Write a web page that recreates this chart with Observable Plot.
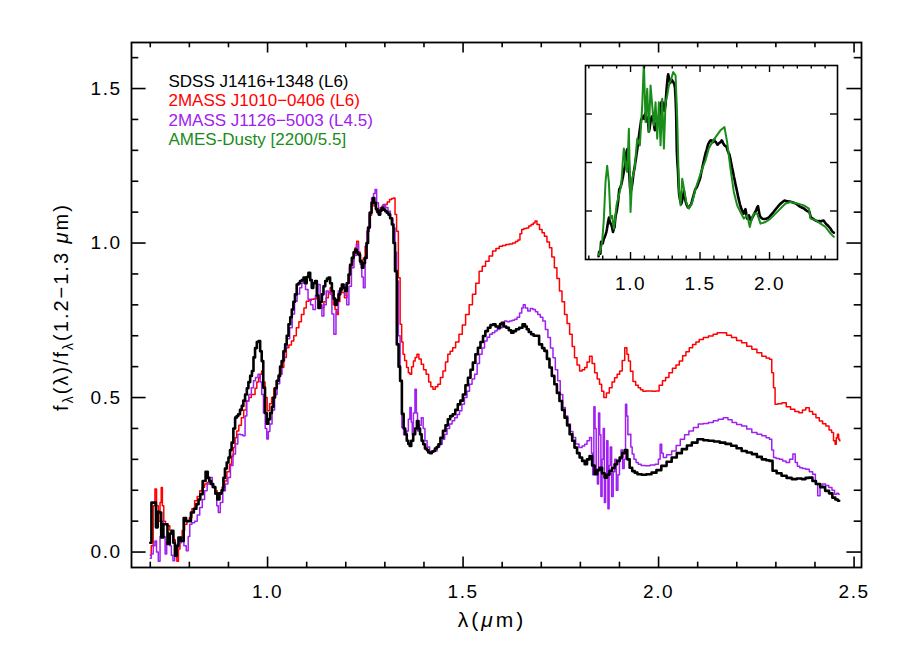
<!DOCTYPE html>
<html>
<head>
<meta charset="utf-8">
<script src="https://cdn.jsdelivr.net/npm/d3@7"></script>
<script src="https://cdn.jsdelivr.net/npm/@observablehq/plot@0.6"></script>
<style>
  html, body { margin: 0; padding: 0; background: #ffffff; }
  #wrap { position: relative; width: 900px; height: 650px; overflow: hidden; }
  #wrap svg { position: absolute; }
  .tl text { letter-spacing: 1.5px; }
</style>
</head>
<body>
<div id="wrap"></div>
<script>
// ---------------- DATA ----------------
const blackWave = [0.700,0.706,0.712,0.717,0.721,0.725,0.731,0.736,0.740,0.748,0.752,0.757,0.761,0.765,0.770,0.774,0.783,0.788,0.795,0.800,0.808,0.815,0.821,0.826,0.830,0.838,0.845,0.849,0.853,0.858,0.864,0.869,0.874,0.880,0.885,0.889,0.893,0.898,0.902,0.906,0.910,0.915,0.919,0.923,0.927,0.932,0.936,0.940,0.945,0.949,0.953,0.958,0.962,0.966,0.970,0.975,0.979,0.983,0.987,0.991,0.996,1.000,1.004,1.009,1.013,1.017,1.021,1.026,1.030,1.034,1.038,1.043,1.047,1.051,1.056,1.060,1.064,1.068,1.072,1.077,1.081,1.085,1.090,1.094,1.098,1.102,1.107,1.111,1.115,1.119,1.124,1.128,1.132,1.137,1.141,1.145,1.150,1.154,1.158,1.162,1.167,1.171,1.175,1.179,1.184,1.188,1.192,1.196,1.200,1.205,1.209,1.213,1.218,1.222,1.226,1.230,1.234,1.239,1.243,1.247,1.251,1.255,1.259,1.264,1.268,1.271,1.275,1.279,1.283,1.286,1.290,1.294,1.299,1.303,1.307,1.311,1.316,1.320,1.324,1.328,1.333,1.337,1.341,1.346,1.350,1.354,1.358,1.362,1.365,1.370,1.375,1.380,1.384,1.388,1.392,1.396,1.400,1.405,1.409,1.413,1.418,1.422,1.426,1.430,1.435,1.439,1.445,1.452,1.458,1.464,1.470,1.477,1.483,1.490,1.496,1.503,1.509,1.516,1.522,1.528,1.535,1.541,1.548,1.554,1.560,1.567,1.573,1.580,1.586,1.592,1.597,1.601,1.607,1.614,1.620,1.626,1.632,1.639,1.648,1.656,1.661,1.665,1.671,1.677,1.684,1.690,1.699,1.705,1.711,1.718,1.724,1.730,1.737,1.743,1.750,1.756,1.763,1.769,1.776,1.782,1.788,1.795,1.801,1.808,1.814,1.820,1.827,1.833,1.840,1.846,1.852,1.859,1.865,1.871,1.878,1.884,1.891,1.897,1.904,1.910,1.917,1.923,1.929,1.936,1.942,1.950,1.963,1.975,1.989,2.000,2.014,2.027,2.040,2.053,2.066,2.079,2.091,2.108,2.121,2.134,2.149,2.164,2.178,2.193,2.206,2.219,2.232,2.245,2.258,2.270,2.280,2.287,2.296,2.308,2.321,2.334,2.347,2.360,2.372,2.380,2.389,2.398,2.407,2.420,2.432,2.440,2.449,2.455,2.462];
const blackFlux = [0.03,0.16,0.16,0.08,0.13,0.128,0.047,0.09,0.09,0.026,0.06,0.069,0.03,-0.012,0.02,0.047,0.036,0.11,0.10,0.10,0.128,0.14,0.155,0.17,0.187,0.23,0.26,0.24,0.23,0.22,0.21,0.19,0.17,0.19,0.20,0.24,0.27,0.29,0.306,0.33,0.354,0.40,0.435,0.44,0.446,0.46,0.473,0.49,0.51,0.53,0.55,0.57,0.586,0.63,0.66,0.68,0.683,0.65,0.618,0.532,0.45,0.415,0.43,0.45,0.47,0.50,0.53,0.554,0.57,0.60,0.618,0.65,0.672,0.70,0.737,0.76,0.785,0.81,0.834,0.866,0.87,0.877,0.88,0.888,0.87,0.89,0.904,0.88,0.855,0.87,0.877,0.83,0.79,0.81,0.834,0.86,0.877,0.885,0.888,0.87,0.845,0.82,0.80,0.815,0.834,0.85,0.866,0.855,0.845,0.87,0.898,0.93,0.952,0.97,0.979,0.97,0.963,0.94,0.92,0.935,0.952,1.0,1.05,1.098,1.13,1.146,1.13,1.11,1.10,1.092,1.105,1.114,1.108,1.103,1.098,1.092,1.08,1.06,1.00,0.909,0.672,0.60,0.554,0.447,0.40,0.381,0.36,0.35,0.343,0.36,0.381,0.40,0.424,0.40,0.381,0.36,0.349,0.335,0.33,0.322,0.32,0.325,0.327,0.335,0.34,0.349,0.37,0.392,0.41,0.43,0.44,0.446,0.46,0.478,0.49,0.51,0.54,0.564,0.59,0.613,0.64,0.661,0.68,0.699,0.715,0.726,0.735,0.737,0.73,0.726,0.738,0.742,0.73,0.726,0.718,0.71,0.715,0.721,0.726,0.737,0.73,0.721,0.712,0.705,0.70,0.70,0.672,0.66,0.651,0.625,0.597,0.57,0.543,0.515,0.489,0.46,0.435,0.41,0.381,0.36,0.338,0.32,0.306,0.295,0.284,0.30,0.311,0.28,0.252,0.265,0.273,0.255,0.241,0.25,0.263,0.272,0.284,0.295,0.306,0.32,0.33,0.30,0.273,0.262,0.257,0.252,0.25,0.252,0.257,0.265,0.279,0.292,0.306,0.32,0.333,0.345,0.354,0.365,0.362,0.36,0.358,0.354,0.35,0.344,0.336,0.327,0.322,0.317,0.308,0.30,0.297,0.295,0.263,0.255,0.247,0.24,0.236,0.238,0.236,0.24,0.241,0.23,0.22,0.21,0.198,0.19,0.176,0.17,0.166];

const redWave = [0.700,0.705,0.710,0.714,0.718,0.723,0.727,0.729,0.733,0.736,0.742,0.748,0.752,0.757,0.762,0.766,0.770,0.774,0.778,0.785,0.791,0.797,0.803,0.810,0.817,0.823,0.830,0.836,0.842,0.849,0.855,0.862,0.868,0.874,0.880,0.887,0.893,0.899,0.906,0.910,0.915,0.919,0.923,0.930,0.936,0.942,0.949,0.955,0.962,0.966,0.970,0.975,0.979,0.983,0.987,0.991,0.996,1.002,1.008,1.013,1.019,1.026,1.032,1.038,1.045,1.051,1.058,1.064,1.070,1.077,1.083,1.090,1.096,1.102,1.109,1.115,1.122,1.128,1.135,1.141,1.147,1.153,1.158,1.162,1.166,1.170,1.175,1.179,1.183,1.187,1.193,1.200,1.206,1.213,1.218,1.222,1.226,1.230,1.235,1.239,1.243,1.247,1.252,1.257,1.263,1.269,1.275,1.281,1.286,1.290,1.296,1.303,1.309,1.315,1.320,1.324,1.328,1.332,1.337,1.341,1.345,1.348,1.353,1.358,1.362,1.366,1.371,1.375,1.380,1.384,1.390,1.396,1.402,1.409,1.415,1.420,1.426,1.432,1.439,1.445,1.452,1.458,1.464,1.470,1.477,1.485,1.494,1.502,1.511,1.520,1.528,1.537,1.545,1.553,1.562,1.571,1.580,1.588,1.597,1.605,1.614,1.622,1.631,1.637,1.643,1.648,1.652,1.659,1.665,1.671,1.677,1.682,1.686,1.692,1.699,1.705,1.711,1.718,1.724,1.730,1.737,1.743,1.750,1.756,1.763,1.769,1.776,1.782,1.788,1.795,1.801,1.808,1.814,1.820,1.827,1.833,1.840,1.846,1.852,1.857,1.863,1.870,1.878,1.884,1.891,1.897,1.904,1.910,1.917,1.921,1.925,1.931,1.938,1.945,1.951,1.957,1.963,1.972,1.980,1.989,1.997,2.006,2.014,2.022,2.031,2.040,2.049,2.057,2.066,2.074,2.083,2.091,2.100,2.108,2.121,2.134,2.145,2.155,2.168,2.180,2.193,2.206,2.219,2.232,2.245,2.258,2.270,2.280,2.287,2.292,2.296,2.300,2.310,2.321,2.332,2.343,2.354,2.364,2.372,2.381,2.390,2.398,2.407,2.415,2.424,2.432,2.440,2.445,2.450,2.453,2.456,2.459,2.462,2.464];
const redFlux = [-0.01,0.02,0.15,0.204,0.15,0.10,0.16,0.209,0.15,0.10,0.09,0.085,0.07,0.059,0.04,0.0,-0.03,0.01,0.047,0.07,0.09,0.10,0.112,0.14,0.166,0.18,0.198,0.21,0.22,0.225,0.23,0.21,0.198,0.19,0.187,0.21,0.23,0.26,0.284,0.31,0.338,0.37,0.392,0.41,0.435,0.46,0.489,0.50,0.51,0.51,0.53,0.55,0.564,0.575,0.586,0.55,0.50,0.457,0.48,0.50,0.53,0.554,0.575,0.597,0.63,0.661,0.67,0.683,0.70,0.726,0.745,0.769,0.79,0.812,0.815,0.818,0.82,0.823,0.80,0.79,0.81,0.823,0.84,0.855,0.83,0.80,0.785,0.769,0.81,0.855,0.84,0.823,0.87,0.92,0.94,0.963,0.985,1.006,0.97,0.941,0.945,0.952,0.99,1.038,1.09,1.136,1.12,1.103,1.108,1.114,1.12,1.125,1.133,1.141,1.144,1.146,1.092,1.038,0.888,0.737,0.68,0.64,0.62,0.597,0.58,0.575,0.60,0.618,0.63,0.64,0.625,0.608,0.59,0.575,0.55,0.535,0.527,0.535,0.543,0.565,0.586,0.615,0.64,0.65,0.661,0.68,0.705,0.735,0.769,0.80,0.834,0.87,0.909,0.925,0.941,0.958,0.974,0.982,0.99,0.992,0.995,0.997,1.0,1.005,1.01,1.03,1.044,1.047,1.049,1.055,1.06,1.065,1.071,1.06,1.044,1.033,1.022,1.003,0.985,0.955,0.92,0.885,0.845,0.81,0.769,0.74,0.705,0.665,0.629,0.605,0.586,0.59,0.597,0.615,0.634,0.61,0.58,0.56,0.543,0.52,0.50,0.515,0.532,0.55,0.564,0.575,0.586,0.62,0.661,0.64,0.618,0.585,0.552,0.54,0.532,0.525,0.52,0.521,0.521,0.52,0.521,0.54,0.554,0.565,0.58,0.595,0.605,0.618,0.635,0.648,0.661,0.672,0.68,0.688,0.694,0.699,0.705,0.71,0.71,0.702,0.694,0.685,0.677,0.666,0.656,0.645,0.634,0.628,0.624,0.58,0.532,0.478,0.48,0.483,0.47,0.462,0.455,0.451,0.46,0.467,0.455,0.446,0.435,0.424,0.415,0.408,0.395,0.387,0.36,0.349,0.37,0.381,0.365,0.36];

const purpleWave = [0.700,0.705,0.710,0.714,0.718,0.723,0.727,0.731,0.736,0.740,0.744,0.748,0.752,0.756,0.760,0.765,0.770,0.776,0.783,0.789,0.795,0.799,0.803,0.810,0.817,0.823,0.830,0.836,0.842,0.849,0.855,0.862,0.868,0.872,0.876,0.882,0.889,0.895,0.902,0.908,0.915,0.921,0.927,0.934,0.940,0.945,0.949,0.955,0.962,0.966,0.972,0.979,0.983,0.987,0.992,0.996,1.000,1.004,1.008,1.015,1.021,1.028,1.034,1.040,1.047,1.053,1.060,1.066,1.072,1.079,1.085,1.090,1.094,1.100,1.107,1.113,1.119,1.126,1.132,1.137,1.141,1.147,1.153,1.158,1.162,1.167,1.172,1.178,1.184,1.190,1.196,1.200,1.205,1.211,1.218,1.224,1.230,1.235,1.239,1.243,1.247,1.252,1.257,1.263,1.269,1.273,1.277,1.281,1.286,1.292,1.298,1.305,1.311,1.317,1.324,1.328,1.332,1.337,1.341,1.346,1.350,1.354,1.358,1.362,1.366,1.369,1.371,1.375,1.379,1.382,1.385,1.390,1.396,1.400,1.405,1.411,1.418,1.424,1.430,1.437,1.443,1.450,1.456,1.462,1.469,1.475,1.482,1.488,1.494,1.500,1.507,1.513,1.520,1.526,1.533,1.539,1.545,1.552,1.558,1.565,1.571,1.578,1.584,1.590,1.597,1.603,1.609,1.616,1.622,1.629,1.635,1.641,1.648,1.652,1.656,1.662,1.669,1.675,1.682,1.688,1.694,1.701,1.707,1.714,1.720,1.727,1.733,1.739,1.745,1.752,1.758,1.765,1.771,1.778,1.784,1.792,1.801,1.808,1.814,1.820,1.827,1.830,1.833,1.836,1.839,1.842,1.845,1.848,1.851,1.854,1.857,1.860,1.863,1.866,1.869,1.872,1.875,1.878,1.882,1.886,1.890,1.894,1.898,1.902,1.906,1.910,1.914,1.917,1.920,1.923,1.927,1.931,1.934,1.940,1.945,1.951,1.960,1.972,1.985,1.997,2.002,2.006,2.010,2.014,2.027,2.040,2.050,2.061,2.072,2.083,2.095,2.108,2.121,2.134,2.146,2.159,2.172,2.183,2.193,2.206,2.219,2.232,2.245,2.258,2.270,2.280,2.287,2.292,2.296,2.305,2.313,2.322,2.330,2.340,2.347,2.352,2.358,2.364,2.372,2.381,2.390,2.398,2.404,2.410,2.416,2.423,2.431,2.440,2.447,2.453,2.458,2.462];
const purpleFlux = [-0.02,-0.006,0.02,0.036,0.0,-0.03,0.05,0.10,0.05,-0.006,0.03,0.058,0.02,-0.01,-0.028,0.0,0.015,0.03,0.036,0.02,0.004,0.05,0.09,0.095,0.10,0.12,0.144,0.17,0.198,0.22,0.241,0.21,0.187,0.15,0.128,0.16,0.198,0.22,0.241,0.28,0.317,0.35,0.381,0.38,0.376,0.44,0.489,0.51,0.532,0.554,0.565,0.575,0.55,0.51,0.45,0.40,0.366,0.39,0.414,0.46,0.51,0.545,0.575,0.62,0.661,0.69,0.726,0.77,0.812,0.835,0.855,0.87,0.888,0.85,0.818,0.80,0.785,0.83,0.866,0.80,0.764,0.80,0.845,0.84,0.834,0.77,0.705,0.78,0.845,0.855,0.866,0.83,0.80,0.86,0.92,0.96,0.995,0.96,0.931,0.89,0.855,0.95,1.038,1.10,1.146,1.16,1.173,1.13,1.092,1.11,1.125,1.115,1.103,1.08,1.049,0.97,0.877,0.70,0.554,0.403,0.38,0.385,0.392,0.43,0.468,0.42,0.381,0.45,0.527,0.45,0.392,0.41,0.435,0.40,0.36,0.34,0.322,0.325,0.327,0.34,0.349,0.365,0.381,0.40,0.414,0.425,0.435,0.445,0.457,0.478,0.50,0.52,0.543,0.56,0.575,0.61,0.64,0.66,0.683,0.695,0.705,0.71,0.715,0.72,0.726,0.737,0.748,0.745,0.748,0.75,0.753,0.76,0.774,0.79,0.80,0.79,0.78,0.788,0.785,0.778,0.769,0.76,0.748,0.72,0.694,0.66,0.629,0.59,0.554,0.51,0.468,0.44,0.414,0.39,0.371,0.35,0.338,0.343,0.349,0.36,0.371,0.32,0.25,0.47,0.40,0.263,0.22,0.45,0.38,0.18,0.30,0.40,0.16,0.25,0.36,0.14,0.28,0.34,0.18,0.26,0.30,0.20,0.25,0.30,0.33,0.27,0.30,0.478,0.44,0.38,0.381,0.34,0.317,0.30,0.29,0.284,0.28,0.279,0.282,0.284,0.30,0.349,0.32,0.306,0.315,0.327,0.345,0.365,0.38,0.392,0.403,0.414,0.416,0.419,0.425,0.43,0.435,0.428,0.419,0.413,0.408,0.398,0.387,0.381,0.376,0.37,0.365,0.33,0.306,0.303,0.30,0.295,0.29,0.30,0.317,0.29,0.278,0.273,0.27,0.268,0.26,0.252,0.22,0.182,0.21,0.22,0.215,0.209,0.20,0.187,0.19,0.187];

const modelWave = [0.772,0.784,0.796,0.808,0.820,0.832,0.844,0.856,0.868,0.880,0.890,0.899,0.916,0.933,0.944,0.952,0.964,0.976,0.988,1.000,1.012,1.029,1.048,1.067,1.084,1.096,1.108,1.120,1.132,1.144,1.156,1.168,1.180,1.192,1.204,1.216,1.228,1.240,1.252,1.264,1.276,1.293,1.307,1.324,1.336,1.348,1.360,1.372,1.384,1.403,1.420,1.444,1.468,1.492,1.516,1.540,1.563,1.585,1.612,1.647,1.676,1.695,1.719,1.743,1.767,1.791,1.815,1.839,1.858,1.872,1.887,1.911,1.935,1.971,2.007,2.043,2.079,2.115,2.151,2.199,2.247,2.283,2.295,2.331,2.367,2.403,2.439,2.463];
const modelFlux = [0.027,0.06,0.109,0.25,0.48,0.58,0.48,0.253,0.27,0.19,0.26,0.335,0.397,0.459,0.60,0.686,0.582,0.541,0.809,0.294,0.50,0.562,0.747,0.706,0.953,1.22,0.85,1.056,0.788,1.077,0.953,0.83,0.973,0.747,0.973,0.706,0.995,0.686,0.973,1.015,1.077,1.118,1.159,1.138,0.871,0.439,0.335,0.50,0.439,0.346,0.315,0.356,0.439,0.50,0.562,0.615,0.686,0.72,0.757,0.799,0.819,0.726,0.562,0.418,0.335,0.294,0.253,0.274,0.201,0.25,0.284,0.284,0.222,0.232,0.253,0.284,0.315,0.346,0.356,0.346,0.335,0.315,0.253,0.243,0.222,0.201,0.16,0.14];

const legendLabels = ["SDSS J1416+1348 (L6)", "2MASS J1010\u22120406 (L6)", "2MASS J1126\u22125003 (L4.5)", "AMES-Dusty [2200/5.5]"];
const legendColors = ["#000000", "#ff0000", "#a020f0", "#1a8c1a"];

const xMajorTicks = [1.0, 1.5, 2.0, 2.5];
const xMinorTicks = [0.7,0.8,0.9,1.1,1.2,1.3,1.4,1.6,1.7,1.8,1.9,2.1,2.2,2.3,2.4];
const yMajorTicks = [0.0, 0.5, 1.0, 1.5];
const yMinorTicks = [0.1,0.2,0.3,0.4,0.6,0.7,0.8,0.9,1.1,1.2,1.3,1.4,1.6];
const insetXMajorTicks = [1.0, 1.5, 2.0];
const insetXMinorTicks = [0.7,0.8,0.9,1.1,1.2,1.3,1.4,1.6,1.7,1.8,1.9,2.1,2.2,2.3,2.4];
const insetYTicks = [0.3, 0.6, 0.9];
const insetStart = 0.77;

// ---------------- LAYOUT ----------------
const FONT = "'Liberation Sans', Arial, Helvetica, sans-serif";
const W = 900, H = 650;
const mL = 131, mR = 39, mT = 42, mB = 83;
const pW = W - mL - mR, pH = H - mT - mB;
const rows = (w, f) => w.map((x, i) => ({x, y: f[i]}));
const black = rows(blackWave, blackFlux);
const red = rows(redWave, redFlux);
const purple = rows(purpleWave, purpleFlux);
const model = rows(modelWave, modelFlux);
const blackInset = black.filter(d => d.x >= insetStart);
const fmt = d3.format(".1f");

const main = Plot.plot({
  width: W, height: H,
  marginLeft: mL, marginRight: mR, marginTop: mT, marginBottom: mB,
  style: {fontFamily: FONT, fontSize: "17px", background: "transparent", color: "#000", overflow: "visible"},
  x: {domain: [0.652, 2.519]},
  y: {domain: [-0.05, 1.649]},
  marks: [
    Plot.line(red, {x: "x", y: "y", curve: "step", stroke: legendColors[1], strokeWidth: 1.5, clip: true}),
    Plot.line(purple, {x: "x", y: "y", curve: "step", stroke: legendColors[2], strokeWidth: 1.5, clip: true}),
    Plot.line(black, {x: "x", y: "y", curve: "step", stroke: legendColors[0], strokeWidth: 2.6, clip: true}),
    Plot.tickX(xMajorTicks, {x: d => d, insetTop: pH - 10.5, strokeWidth: 1.6}),
    Plot.tickX(xMajorTicks, {x: d => d, insetBottom: pH - 10.5, strokeWidth: 1.6}),
    Plot.tickX(xMinorTicks, {x: d => d, insetTop: pH - 5.3, strokeWidth: 1.6}),
    Plot.tickX(xMinorTicks, {x: d => d, insetBottom: pH - 5.3, strokeWidth: 1.6}),
    Plot.tickY(yMajorTicks, {y: d => d, insetRight: pW - 14.6, strokeWidth: 1.6}),
    Plot.tickY(yMajorTicks, {y: d => d, insetLeft: pW - 14.6, strokeWidth: 1.6}),
    Plot.tickY(yMinorTicks, {y: d => d, insetRight: pW - 7.3, strokeWidth: 1.6}),
    Plot.tickY(yMinorTicks, {y: d => d, insetLeft: pW - 7.3, strokeWidth: 1.6}),
    Plot.axisX(xMajorTicks, {anchor: "bottom", tickSize: 0, tickPadding: 17, tickFormat: fmt, label: null, fontSize: 19, className: "tl"}),
    Plot.axisY(yMajorTicks, {anchor: "left", tickSize: 0, tickPadding: 10, tickFormat: fmt, label: null, fontSize: 19, className: "tl"}),
    Plot.frame({stroke: "#000", strokeWidth: 1.8}),
    ...legendLabels.map((t, i) => Plot.text([t], {
      text: d => d, frameAnchor: "top-left", textAnchor: "start", lineAnchor: "middle",
      dx: 37, dy: 39 + i * 19.4, fill: legendColors[i], fontSize: 17
    }))
  ]
});
main.style.left = "0px";
main.style.top = "0px";

// axis titles with subscripts as real text
const svgMain = d3.select(main);
const yl = svgMain.append("text")
  .attr("transform", "translate(68,307) rotate(-90)")
  .attr("text-anchor", "middle")
  .attr("font-family", FONT).attr("font-size", 20).attr("fill", "#000")
  .style("letter-spacing", "2px");
yl.append("tspan").text("f");
yl.append("tspan").attr("dy", 5).attr("font-size", 14).text("\u03bb");
yl.append("tspan").attr("dy", -5).text("(\u03bb)/f");
yl.append("tspan").attr("dy", 5).attr("font-size", 14).text("\u03bb");
yl.append("tspan").attr("dy", -5).text("(1.2\u22121.3 ");
yl.append("tspan").attr("font-style", "italic").text("\u03bc");
yl.append("tspan").text("m)");

const xl = svgMain.append("text")
  .attr("x", 492).attr("y", 627)
  .attr("text-anchor", "middle")
  .attr("font-family", FONT).attr("font-size", 21).attr("fill", "#000")
  .style("letter-spacing", "3px");
xl.append("tspan").text("\u03bb(");
xl.append("tspan").attr("font-style", "italic").text("\u03bc");
xl.append("tspan").text("m)");

// ---------------- INSET ----------------
const iL = 10, iR = 10, iT = 10, iB = 40;
const iW = 252, iH = 194;
const inset = Plot.plot({
  width: iW + iL + iR, height: iH + iT + iB,
  marginLeft: iL, marginRight: iR, marginTop: iT, marginBottom: iB,
  style: {fontFamily: FONT, fontSize: "17px", background: "transparent", color: "#000", overflow: "visible"},
  x: {domain: [0.676, 2.489]},
  y: {domain: [0, 1.2]},
  marks: [
    Plot.frame({fill: "#fff", stroke: null}),
    Plot.line(blackInset, {x: "x", y: "y", stroke: legendColors[0], strokeWidth: 2.6, clip: true}),
    Plot.line(model, {x: "x", y: "y", stroke: legendColors[3], strokeWidth: 2, clip: true}),
    Plot.tickX(insetXMajorTicks, {x: d => d, insetTop: iH - 7, strokeWidth: 1.4}),
    Plot.tickX(insetXMajorTicks, {x: d => d, insetBottom: iH - 7, strokeWidth: 1.4}),
    Plot.tickX(insetXMinorTicks, {x: d => d, insetTop: iH - 3.5, strokeWidth: 1.4}),
    Plot.tickX(insetXMinorTicks, {x: d => d, insetBottom: iH - 3.5, strokeWidth: 1.4}),
    Plot.tickY(insetYTicks, {y: d => d, insetRight: iW - 7, strokeWidth: 1.4}),
    Plot.tickY(insetYTicks, {y: d => d, insetLeft: iW - 7, strokeWidth: 1.4}),
    Plot.axisX(insetXMajorTicks, {anchor: "bottom", tickSize: 0, tickPadding: 17, tickFormat: fmt, label: null, fontSize: 19, className: "tl"}),
    Plot.axisY({ticks: [], label: null}),
    Plot.frame({stroke: "#000", strokeWidth: 1.6})
  ]
});
inset.style.left = (585 - iL) + "px";
inset.style.top = (65 - iT) + "px";

const wrap = document.getElementById("wrap");
wrap.appendChild(main);
wrap.appendChild(inset);
</script>
</body>
</html>
